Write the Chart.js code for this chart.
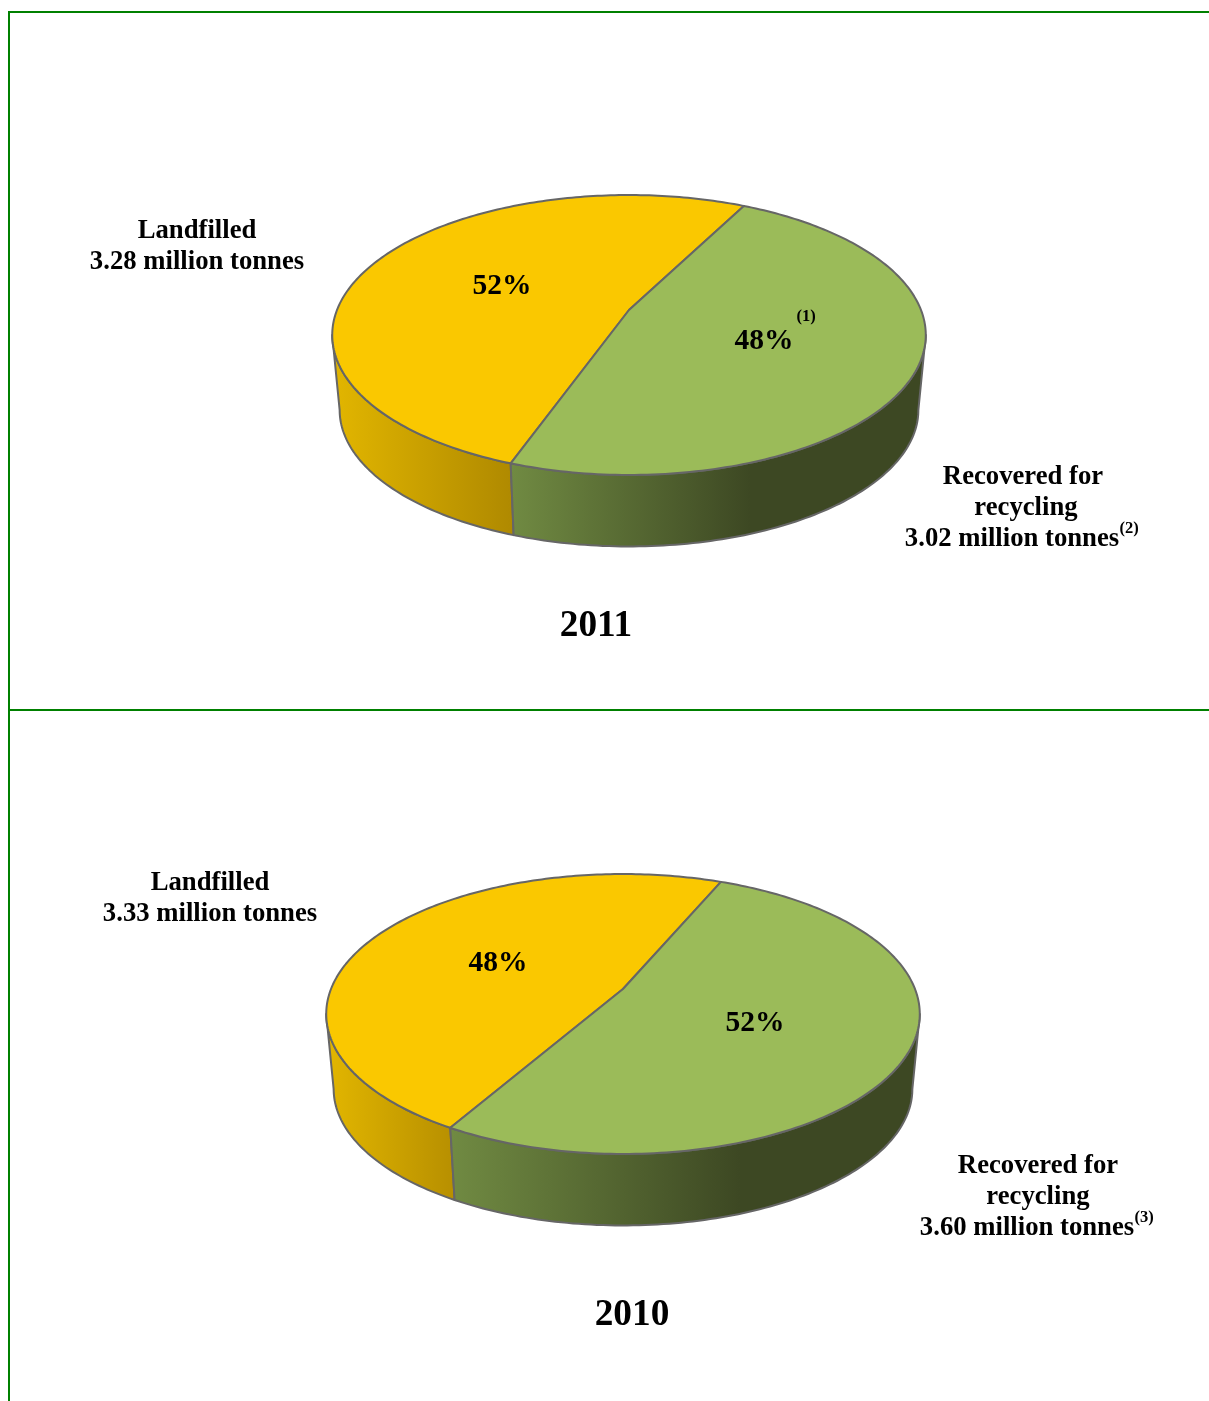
<!DOCTYPE html>
<html><head><meta charset="utf-8">
<script src="https://cdn.jsdelivr.net/npm/chart.js@4"></script>
<style>
html,body{margin:0;padding:0;background:#fff;overflow:hidden}
#page{position:relative;width:1209px;height:1401px;overflow:hidden}
.rule{position:absolute;background:#008000}
canvas{position:absolute;left:0}
</style></head><body>
<div id="page">
<div class="rule" style="left:8px;top:11px;width:2px;height:1390px"></div>
<div class="rule" style="left:8px;top:11px;width:1201px;height:2px"></div>
<div class="rule" style="left:8px;top:709px;width:1201px;height:2px"></div>
<canvas id="c2011" width="1209" height="700" style="top:0"></canvas>
<canvas id="c2010" width="1209" height="700" style="top:679px"></canvas>
</div>
<script>
const categories = ['Landfilled', 'Recovered for recycling'];
const tonnes2011 = [3.28, 3.02];
const tonnes2010 = [3.33, 3.60];
const percent2011 = ['52%', '48%'];
const percent2010 = ['48%', '52%'];
const colours = ['#FAC800', '#9BBB59'];

const FONT = '"Liberation Serif","Times New Roman",serif';
const ASPECT = 0.464, K = -0.1786;      // perspective of the tilted disc
const CY_OFF = 25, DEPTH = 75, SHRINK = 0.975, EDGE = '#666666';
const WIDEST = 0.18;                    // circle angle of the disc's widest point

function project(arc, a) {
  const X = Math.cos(a), Y = Math.sin(a), w = 1 + K * Y, r = arc.outerRadius;
  return {x: arc.x + r * X / w, y: arc.y + r * ASPECT * Y / w};
}
function lower(arc, p) {
  return {x: arc.x + (p.x - arc.x) * SHRINK,
          y: arc.y + CY_OFF + DEPTH + (p.y - arc.y - CY_OFF) * SHRINK};
}
function props(el) {
  return el.getProps(['x', 'y', 'startAngle', 'endAngle', 'outerRadius'], true);
}
const STEP = Math.PI / 180;

const disc3d = {
  id: 'disc3d',
  beforeDatasetDraw(chart) {
    const ctx = chart.ctx, o = chart.options.plugins.disc3d;
    const arcs = chart.getDatasetMeta(0).data.map(props);
    ctx.save();
    ctx.lineJoin = 'round';
    // side wall: visible angles only
    arcs.forEach((arc, i) => {
      for (let n = -1; n <= 1; n++) {
        const lo = Math.max(arc.startAngle, WIDEST + n * 2 * Math.PI);
        const hi = Math.min(arc.endAngle, Math.PI - WIDEST + n * 2 * Math.PI);
        if (hi <= lo) continue;
        const top = [], bot = [];
        for (let a = lo; a < hi; a += STEP) { const p = project(arc, a); top.push(p); bot.push(lower(arc, p)); }
        const pe = project(arc, hi); top.push(pe); bot.push(lower(arc, pe));
        const g = ctx.createLinearGradient(o.wall[i].from, 0, o.wall[i].to, 0);
        g.addColorStop(0, o.wall[i].c0); g.addColorStop(1, o.wall[i].c1);
        ctx.beginPath();
        top.forEach((p, j) => j ? ctx.lineTo(p.x, p.y) : ctx.moveTo(p.x, p.y));
        bot.reverse().forEach(p => ctx.lineTo(p.x, p.y));
        ctx.closePath();
        ctx.fillStyle = g; ctx.fill();
        ctx.strokeStyle = EDGE; ctx.lineWidth = 2; ctx.stroke();
      }
    });
    // top face
    arcs.forEach((arc, i) => {
      ctx.beginPath();
      ctx.moveTo(arc.x, arc.y);
      for (let a = arc.startAngle; a < arc.endAngle; a += STEP) { const p = project(arc, a); ctx.lineTo(p.x, p.y); }
      const pe = project(arc, arc.endAngle); ctx.lineTo(pe.x, pe.y);
      ctx.closePath();
      ctx.fillStyle = chart.data.datasets[0].backgroundColor[i]; ctx.fill();
      ctx.strokeStyle = EDGE; ctx.lineWidth = 2; ctx.stroke();
    });
    ctx.restore();
    return false;
  },
  afterDraw(chart) {
    const ctx = chart.ctx, o = chart.options.plugins.disc3d;
    ctx.save();
    ctx.fillStyle = '#000';
    ctx.textBaseline = 'alphabetic';
    o.texts.forEach(t => {
      ctx.font = 'bold ' + t.size + 'px ' + FONT;
      ctx.textAlign = t.align || 'center';
      ctx.fillText(t.s, t.x, t.y - o.top);
    });
    ctx.restore();
  }
};

function makePie(id, values, rotation, cx, top, wall, texts) {
  const cy = 310, R = 292;
  return new Chart(document.getElementById(id), {
    type: 'pie',
    data: {labels: categories, datasets: [{data: values, backgroundColor: colours, borderWidth: 0}]},
    options: {
      responsive: false, animation: false, events: [],
      rotation: rotation,
      layout: {padding: {left: cx - R, right: 1209 - cx - R, top: cy - R, bottom: 700 - cy - R}},
      plugins: {legend: {display: false}, tooltip: {enabled: false},
        disc3d: {wall, texts, top}}
    },
    plugins: [disc3d]
  });
}

makePie('c2011', tonnes2011, 199.7, 629, 0,
  [{from: 340, to: 510, c0: '#E0B400', c1: '#B08A00'},
   {from: 512, to: 750, c0: '#708A42', c1: '#3D4823'}],
  [{s: categories[0], x: 197, y: 238, size: 26.7},
   {s: '3.28 million tonnes', x: 197, y: 269, size: 26.7},
   {s: percent2011[0], x: 502, y: 294, size: 29.5},
   {s: percent2011[1], x: 764, y: 349, size: 29.5},
   {s: '(1)', x: 806, y: 321, size: 16.5},
   {s: 'Recovered for', x: 1023, y: 484, size: 26.7},
   {s: 'recycling', x: 1026, y: 515, size: 26.7},
   {s: '3.02 million tonnes', x: 1012, y: 546, size: 26.7},
   {s: '(2)', x: 1129, y: 533, size: 16.5},
   {s: '2011', x: 596, y: 636, size: 37.3}]);

makePie('c2010', tonnes2010, 210, 623, 679,
  [{from: 333, to: 452, c0: '#E0B400', c1: '#B89000'},
   {from: 452, to: 740, c0: '#708A42', c1: '#3D4823'}],
  [{s: categories[0], x: 210, y: 890, size: 26.7},
   {s: '3.33 million tonnes', x: 210, y: 921, size: 26.7},
   {s: percent2010[0], x: 498, y: 971, size: 29.5},
   {s: percent2010[1], x: 755, y: 1031, size: 29.5},
   {s: 'Recovered for', x: 1038, y: 1173, size: 26.7},
   {s: 'recycling', x: 1038, y: 1204, size: 26.7},
   {s: '3.60 million tonnes', x: 1027, y: 1235, size: 26.7},
   {s: '(3)', x: 1144, y: 1222, size: 16.5},
   {s: '2010', x: 632, y: 1325, size: 37.3}]);
</script>
</body></html>
